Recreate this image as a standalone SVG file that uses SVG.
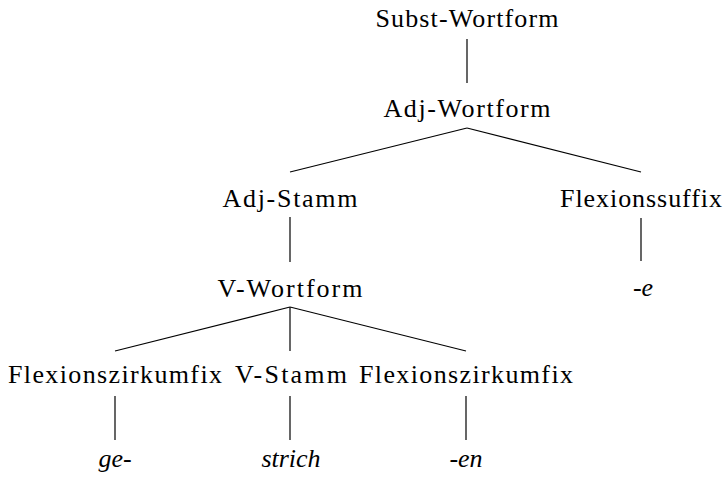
<svg xmlns="http://www.w3.org/2000/svg" width="725" height="485" viewBox="0 0 725 485">
<style>
text{font-size:26px;fill:#000;text-anchor:middle}
.it{font-style:italic}
.e{stroke:#000;stroke-width:1.2;fill:none}
</style>
<rect width="725" height="485" fill="#fff"/>
<g id="connectors">
<line class="e" x1="467" y1="39" x2="467" y2="83"/>
<line class="e" x1="467" y1="128" x2="290" y2="172"/>
<line class="e" x1="467" y1="128" x2="641" y2="172"/>
<line class="e" x1="290" y1="217" x2="290" y2="262"/>
<line class="e" x1="641" y1="218" x2="641" y2="261"/>
<line class="e" x1="290" y1="307" x2="115" y2="351"/>
<line class="e" x1="290" y1="307" x2="290" y2="351"/>
<line class="e" x1="290" y1="307" x2="466" y2="351"/>
<line class="e" x1="115" y1="396" x2="115" y2="440"/>
<line class="e" x1="290" y1="396" x2="290" y2="440"/>
<line class="e" x1="466" y1="396" x2="466" y2="440"/>
</g>
<g font-family="Times New Roman, Liberation Serif, serif">
<g id="n1"><text x="467" y="27" textLength="183">Subst-Wortform</text></g>
<g id="n2"><text x="467" y="117" textLength="167">Adj-Wortform</text></g>
<g id="n3"><text x="290" y="207" textLength="135">Adj-Stamm</text></g>
<g id="n4"><text x="641" y="207" textLength="162">Flexionssuffix</text></g>
<g id="n5"><text x="290" y="297" textLength="145">V-Wortform</text></g>
<g id="n6"><text class="it" x="643" y="296">-e</text></g>
<g id="n7"><text x="115" y="383" textLength="214">Flexionszirkumfix</text></g>
<g id="n8"><text x="291" y="383" textLength="112">V-Stamm</text></g>
<g id="n9"><text x="466" y="383" textLength="214">Flexionszirkumfix</text></g>
<g id="n10"><text class="it" x="115" y="467">ge-</text></g>
<g id="n11"><text class="it" x="291" y="467">strich</text></g>
<g id="n12"><text class="it" x="466" y="467">-en</text></g>
</g>
</svg>
